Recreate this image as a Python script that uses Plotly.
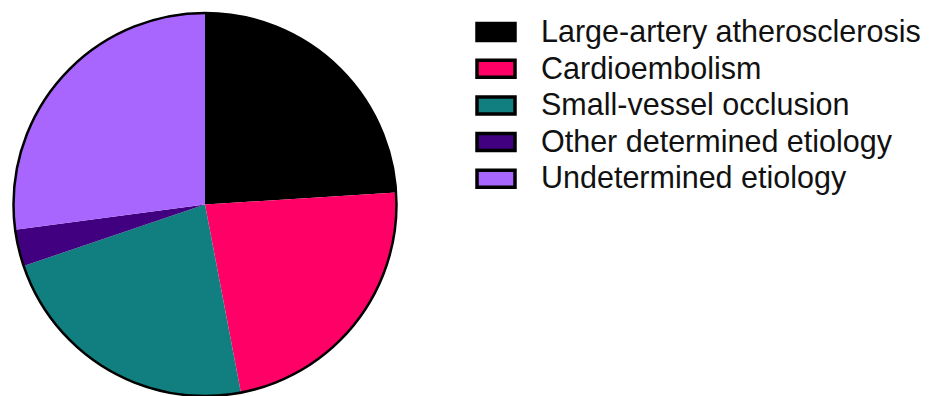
import plotly.graph_objects as go

labels = ["Large-artery atherosclerosis", "Cardioembolism", "Small-vessel occlusion",
          "Other determined etiology", "Undetermined etiology"]
values = [24.0, 23.0, 22.8, 3.1, 27.1]
colors = ["#000000", "#FF0066", "#117F80", "#41007F", "#A866FF"]

W, H = 938, 396
cx, cy, r = 205, 204.5, 191.5  # pie centre / radius in px (from top-left)

fig = go.Figure()
fig.add_trace(go.Pie(
    labels=labels, values=values, sort=False, direction="clockwise", rotation=0,
    marker=dict(colors=colors, line=dict(width=0)),
    textinfo="none", showlegend=False,
    domain=dict(x=[(cx - r) / W, (cx + r) / W], y=[(H - cy - r) / H, (H - cy + r) / H]),
))

shapes = [dict(type="circle", xref="paper", yref="paper",
               x0=(cx - r) / W, x1=(cx + r) / W,
               y0=(H - cy - r) / H, y1=(H - cy + r) / H,
               line=dict(color="black", width=2.5))]
annotations = []
sw_x0, sw_x1, sw_h = 477, 515, 17
row0, step = 32, 36.7
for i, (lab, col) in enumerate(zip(labels, colors)):
    yc = row0 + i * step
    shapes.append(dict(type="rect", xref="paper", yref="paper",
                       x0=sw_x0 / W, x1=sw_x1 / W,
                       y0=1 - (yc + sw_h / 2) / H, y1=1 - (yc - sw_h / 2) / H,
                       fillcolor=col, line=dict(color="black", width=3.5)))
    annotations.append(dict(xref="paper", yref="paper", x=539 / W, y=1 - (yc - 1) / H,
                            xanchor="left", yanchor="middle", showarrow=False,
                            text=lab, font=dict(family="Liberation Sans, Arial", size=30.5, color="#111111")))

fig.update_layout(width=W, height=H, margin=dict(l=0, r=0, t=0, b=0),
                  paper_bgcolor="white", plot_bgcolor="white",
                  shapes=shapes, annotations=annotations)
fig.write_html("out.html")
